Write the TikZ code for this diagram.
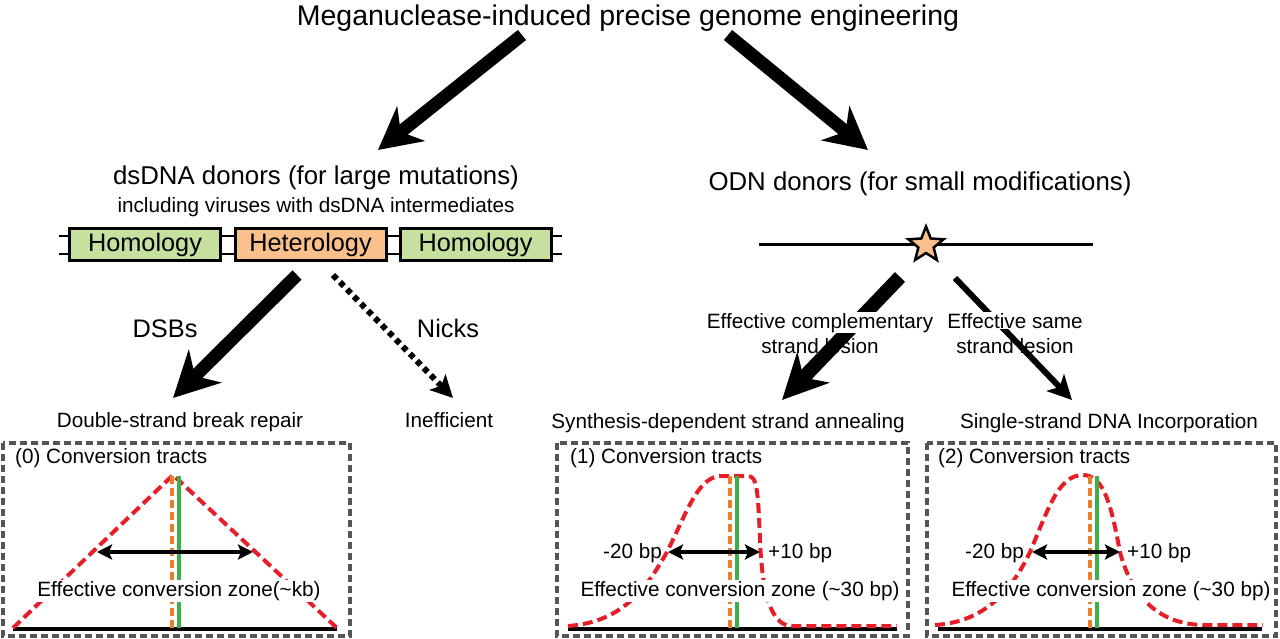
\documentclass[tikz,border=0pt]{standalone}
\usepackage{fontspec}
\setmainfont{Liberation Sans}
\usetikzlibrary{arrows.meta,shapes.geometric}
\definecolor{homog}{RGB}{198,224,160}
\definecolor{heterog}{RGB}{249,192,140}
\definecolor{tractred}{RGB}{230,30,40}
\definecolor{tractorange}{RGB}{240,125,40}
\definecolor{tractgreen}{RGB}{60,175,75}
\definecolor{boxgray}{RGB}{85,85,85}
\tikzset{
  bigtext/.style={font=\fontsize{25.8}{30}\selectfont, inner sep=0pt},
  smalltext/.style={font=\fontsize{20.7}{25}\selectfont, inner sep=0pt},
  seg/.style={draw=black, line width=3pt, minimum width=151pt, minimum height=32pt, inner sep=0pt, font=\fontsize{25.3}{30}\selectfont},
  dnaline/.style={line width=2.5pt},
  fatarrow/.style={line width=13pt, -{Stealth[length=42pt,width=44pt,inset=13pt]}},
  thinarrow/.style={line width=6pt, -{Stealth[length=24pt,width=24pt,inset=6pt]}},
  dotarrow/.style={line width=6pt, dash pattern=on 5.5pt off 4.5pt, -{Stealth[length=22pt,width=22pt,inset=5pt]}},
  convbox/.style={draw=boxgray, line width=4pt, dash pattern=on 7pt off 4pt},
  tract/.style={draw=tractred, line width=4pt, dash pattern=on 10pt off 5pt},
  orangeline/.style={draw=tractorange, line width=4pt, dash pattern=on 8pt off 4pt},
  greenline/.style={draw=tractgreen, line width=4pt},
  baseline/.style={line width=4pt},
  dblarrow/.style={line width=4pt, {Stealth[length=15pt,width=15pt,inset=3pt]}-{Stealth[length=15pt,width=15pt,inset=3pt]}},
  zone/.style={smalltext, fill=white, inner sep=1.5pt, anchor=base},
}
\begin{document}
\begin{tikzpicture}[x=1pt,y=-1pt]
\useasboundingbox (0,0) rectangle (1280,639);

% title
\node[bigtext, anchor=base, font=\fontsize{28.5}{34}\selectfont] (title) at (628,26) {Meganuclease-induced precise genome engineering};
\coordinate (tl) at (522,35); \coordinate (tlh) at (378,150);
\coordinate (tr) at (728,35); \coordinate (trh) at (868,150);
\draw[fatarrow] (tl) -- (tlh);
\draw[fatarrow] (tr) -- (trh);

% dsDNA donors
\node[bigtext, anchor=base] (ds) at (316,185) {dsDNA donors (for large mutations)};
\node[smalltext, anchor=base] (dsinc) at (316,213) {including viruses with dsDNA intermediates};
\coordinate (la) at (59,236); \coordinate (ra) at (562,236);
\coordinate (lb) at (59,254); \coordinate (rb) at (562,254);
\draw[dnaline] (la) -- (ra);
\draw[dnaline] (lb) -- (rb);
\node[seg, fill=homog] (hom1) at (145,244.5) {Homology};
\node[seg, fill=heterog] (het) at (310.5,244.5) {Heterology};
\node[seg, fill=homog] (hom2) at (475.5,244.5) {Homology};

% ODN donors
\node[bigtext, anchor=base] (odn) at (920,191) {ODN donors (for small modifications)};
\coordinate (odnl) at (759,245); \coordinate (odnr) at (1093,245);
\draw[line width=3pt] (odnl) -- (odnr);
\node[star, star points=5, star point ratio=2.3, minimum size=37pt, inner sep=0pt, draw=black, line width=2.5pt, fill=heterog] (lesion) at (926,245) {};

% left branch arrows
\coordinate (dsbs) at (297,275); \coordinate (dsbe) at (173,398);
\coordinate (nks) at (333,275); \coordinate (nke) at (453,398);
\draw[line width=13pt, -{Stealth[length=45pt,width=46pt,inset=14pt]}] (dsbs) -- (dsbe);
\draw[dotarrow] (nks) -- (nke);
\node[bigtext, anchor=base, font=\fontsize{25.4}{30}\selectfont] (dsbl) at (165,337) {DSBs};
\node[bigtext, anchor=base, font=\fontsize{25.4}{30}\selectfont] (nkl) at (448,337) {Nicks};
\node[smalltext, anchor=base] (dsbr) at (180,427) {Double-strand break repair};
\node[smalltext, anchor=base] (ineff) at (449,427) {Inefficient};

% right branch arrows
\coordinate (cs) at (900,277); \coordinate (ce) at (782,400);
\coordinate (ss) at (955,278); \coordinate (se) at (1072,400);
\draw[line width=14pt, -{Stealth[length=45pt,width=44pt,inset=14pt]}] (cs) -- (ce);
\draw[thinarrow] (ss) -- (se);
\node[smalltext, anchor=base, fill=white, inner sep=1pt] (comp1) at (820,328) {Effective complementary};
\node[smalltext, anchor=base] (comp2) at (820,353) {strand lesion};
\node[smalltext, anchor=base, fill=white, inner sep=1pt] (same1) at (1015,328) {Effective same};
\node[smalltext, anchor=base] (same2) at (1015,353) {strand lesion};
\node[smalltext, anchor=base] (sdsa) at (728,428) {Synthesis-dependent strand annealing};
\node[smalltext, anchor=base] (ssdi) at (1109,428) {Single-strand DNA Incorporation};

% ---------- box 0 ----------
\draw[convbox] (3,443) rectangle (350,636);
\node[smalltext, anchor=base west] (ct0) at (15,463) {(0) Conversion tracts};
\coordinate (b0l) at (13,629); \coordinate (b0r) at (337,629);
\draw[baseline] (b0l) -- (b0r);
\draw[tract] (13,628) -- (173,475) -- (337,628);
\draw[orangeline] (172,476) -- (172,628);
\draw[greenline] (179,476) -- (179,628);
\coordinate (d0l) at (97,552); \coordinate (d0r) at (253,552);
\draw[dblarrow] (d0l) -- (d0r);
\node[zone] (z0) at (179,596) {Effective conversion zone(\textasciitilde kb)};

% ---------- box 1 ----------
\draw[convbox] (557,443) rectangle (908,636);
\node[smalltext, anchor=base west] (ct1) at (570,463) {(1) Conversion tracts};
\coordinate (b1l) at (568,629); \coordinate (b1r) at (897,629);
\draw[baseline] (b1l) -- (b1r);
\draw[tract] (568,626) .. controls (625,622) and (648,585) .. (667,552)
  .. controls (688,510) and (698,476) .. (722,476) -- (748,476)
  .. controls (757,476) and (758,490) .. (760,540)
  .. controls (762,590) and (770,626) .. (792,626) -- (897,626);
\draw[orangeline] (730,476) -- (730,628);
\draw[greenline] (737,476) -- (737,628);
\coordinate (d1l) at (668,552); \coordinate (d1r) at (760,552);
\draw[dblarrow] (d1l) -- (d1r);
\node[smalltext, anchor=base east] (m1) at (662,558) {-20 bp};
\node[smalltext, anchor=base west] (p1) at (768,558) {+10 bp};
\node[zone] (z1) at (740,596) {Effective conversion zone (\textasciitilde30 bp)};

% ---------- box 2 ----------
\draw[convbox] (927,443) rectangle (1276,636);
\node[smalltext, anchor=base west] (ct2) at (938,463) {(2) Conversion tracts};
\coordinate (b2l) at (938,629); \coordinate (b2r) at (1262,629);
\draw[baseline] (b2l) -- (b2r);
\draw[tract] (935,625) .. controls (985,622) and (1012,590) .. (1030,552)
  .. controls (1048,510) and (1058,475) .. (1083,475)
  .. controls (1105,475) and (1112,510) .. (1120,552)
  .. controls (1132,598) and (1160,625) .. (1205,625) -- (1263,625);
\draw[orangeline] (1090,476) -- (1090,628);
\draw[greenline] (1097,476) -- (1097,628);
\coordinate (d2l) at (1032,552); \coordinate (d2r) at (1120,552);
\draw[dblarrow] (d2l) -- (d2r);
\node[smalltext, anchor=base east] (m2) at (1024,558) {-20 bp};
\node[smalltext, anchor=base west] (p2) at (1127,558) {+10 bp};
\node[zone] (z2) at (1111,596) {Effective conversion zone (\textasciitilde30 bp)};
\end{tikzpicture}
\end{document}
